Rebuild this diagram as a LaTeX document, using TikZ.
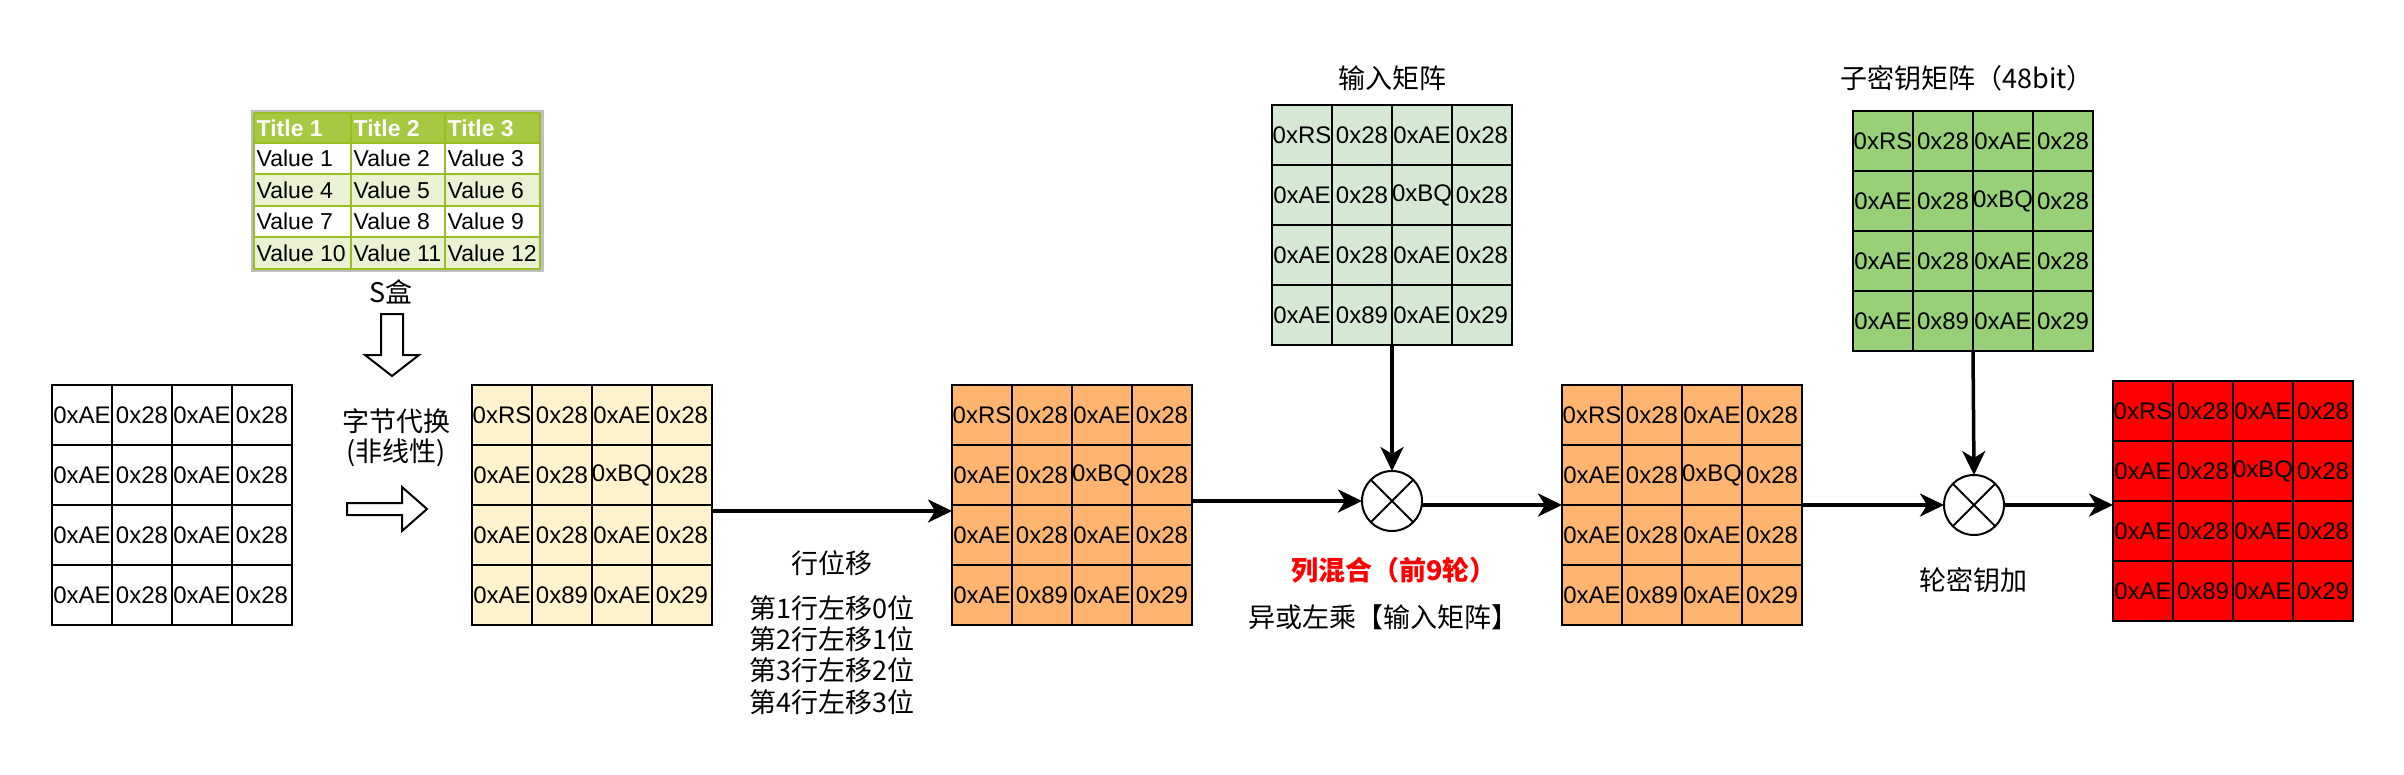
\documentclass[tikz,border=0pt]{standalone}
\usepackage{fontspec}
\setmainfont{Liberation Sans}
\newfontfamily\cjk{Noto Sans CJK SC}
\usetikzlibrary{arrows.meta}
\definecolor{cYellow}{HTML}{FFF2CC}
\definecolor{cOrange}{HTML}{FFB570}
\definecolor{cLightGreen}{HTML}{D5E8D4}
\definecolor{cGreen}{HTML}{97D077}
\definecolor{cRed}{HTML}{FF0000}
\definecolor{tHead}{HTML}{A7C942}
\definecolor{tAlt}{HTML}{EAF2D3}
\definecolor{tLine}{HTML}{98BF21}
\definecolor{tOuter}{HTML}{BFBFBF}
\tikzset{
  gridline/.style={line width=2pt, draw=black},
  cellbox/.style={inner sep=0pt, font=\fontsize{24}{28}\selectfont},
  matframe/.style={minimum width=240pt, minimum height=240pt, inner sep=0pt, outer sep=0pt, draw=none},
  lbl/.style={font=\cjk\fontsize{27}{31}\selectfont, inner sep=0pt},
  arr/.style={line width=3.5pt, -{Stealth[length=24pt,width=23pt,inset=7pt]}},
  xorc/.style={circle, draw, line width=2pt, fill=white, minimum size=60pt, inner sep=0pt, outer sep=0pt},
  blockarrow/.style={draw, line width=2pt, fill=white, line join=miter},
  tcell/.style={anchor=west, inner sep=0pt, font=\fontsize{23}{27}\selectfont},
  thead/.style={tcell, text=white, font=\fontsize{23}{27}\selectfont\bfseries},
}
\def\plainrows{0xAE/0x28/0xAE/0x28,0xAE/0x28/0xAE/0x28,0xAE/0x28/0xAE/0x28,0xAE/0x28/0xAE/0x28}
\def\staterows{0xRS/0x28/0xAE/0x28,0xAE/0x28/0xBQ/0x28,0xAE/0x28/0xAE/0x28,0xAE/0x89/0xAE/0x29}
% #1 name, #2 left x, #3 top y, #4 fill colour, #5 rows macro
\newcommand\aesgrid[5]{%
  \fill[#4] (#2,#3) rectangle ++(240,240);
  \node[matframe] (#1) at (#2+120,#3+120) {};
  \foreach \a/\b/\c/\d [count=\i from 0] in #5 {%
    \node[cellbox] (#1-\i-0) at (#2+30,#3+30+60*\i) {\a};
    \node[cellbox] (#1-\i-1) at (#2+90,#3+30+60*\i) {\b};
    \node[cellbox] (#1-\i-2) at (#2+150,#3+30+60*\i) {\c};
    \node[cellbox] (#1-\i-3) at (#2+210,#3+30+60*\i) {\d};
  }
  \foreach \k in {60,120,180}{%
    \draw[gridline] (#2+\k,#3) -- ++(0,240);
    \draw[gridline] (#2,#3+\k) -- ++(240,0);
  }
  \draw[gridline] (#2,#3) rectangle ++(240,240);
}
\begin{document}
\begin{tikzpicture}[x=1pt,y=-1pt]
\useasboundingbox (0,0) rectangle (2404,774);

% ---------- S-box table ----------
\draw[tOuter, line width=3pt] (252.5,111.5) rectangle (542,270.2);
\fill[white] (254,113) rectangle (540,268.6);
\fill[tHead] (254,113) rectangle (540,143);
\fill[tAlt] (254,174.4) rectangle (540,205.8);
\fill[tAlt] (254,237.2) rectangle (540,268.6);
\foreach \yy in {113,143,174.4,205.8,237.2,268.6}{\draw[tLine, line width=2pt] (254,\yy) -- (540,\yy);}
\foreach \xx in {254,351,445,540}{\draw[tLine, line width=2pt] (\xx,113) -- (\xx,268.6);}
\node[thead] (th1) at (256.5,128) {Title 1};
\node[thead] (th2) at (353.5,128) {Title 2};
\node[thead] (th3) at (447.5,128) {Title 3};
\foreach \r/\va/\vb/\vc [count=\j from 1] in {158.7/1/2/3,190.1/4/5/6,221.5/7/8/9,252.9/10/11/12}{%
  \node[tcell] (tv\j a) at (256.5,\r) {Value \va};
  \node[tcell] (tv\j b) at (353.5,\r) {Value \vb};
  \node[tcell] (tv\j c) at (447.5,\r) {Value \vc};
}
\node[lbl] (sbox) at (391,292) {S盒};

% ---------- block arrows ----------
\draw[blockarrow] (381,314) -- (403,314) -- (403,355) -- (419,355) -- (392,376) -- (365,355) -- (381,355) -- cycle;
\draw[blockarrow] (347,503) -- (402,503) -- (402,487) -- (427,509) -- (402,531) -- (402,515) -- (347,515) -- cycle;
\node[lbl] (subA) at (396,421) {字节代换};
\node[lbl] (subB) at (396,453) {(非线性)};

% ---------- matrices ----------
\aesgrid{m1}{52}{385}{white}{\plainrows}
\aesgrid{m2}{472}{385}{cYellow}{\staterows}
\aesgrid{m3}{952}{385}{cOrange}{\staterows}
\aesgrid{g1}{1272}{105}{cLightGreen}{\staterows}
\aesgrid{m4}{1562}{385}{cOrange}{\staterows}
\aesgrid{g2}{1853}{111}{cGreen}{\staterows}
\aesgrid{rr}{2113}{381}{cRed}{\staterows}

% ---------- xor circles ----------
\node[xorc] (c1) at (1392,501) {};
\draw[line width=2pt] (c1.45) -- (c1.225) (c1.135) -- (c1.315);
\node[xorc] (c2) at (1974,505) {};
\draw[line width=2pt] (c2.45) -- (c2.225) (c2.135) -- (c2.315);

% ---------- connectors ----------
\draw[arr] ([yshift=-6pt]m2.east) -- ([yshift=-6pt]m3.west);
\draw[arr] ([yshift=4pt]m3.east) -- (c1.west);
\draw[arr] (g1.south) -- (c1.north);
\draw[arr] ([yshift=-4pt]c1.east) -- (m4.west);
\draw[arr] (m4.east) -- (c2.west);
\draw[arr] (g2.south) -- (c2.north);
\draw[arr] (c2.east) -- (c2.east -| rr.west);

% ---------- labels ----------
\node[lbl] (shiftT) at (832,563) {行位移};
\node[lbl, align=center, font=\cjk\fontsize{27}{31.3}\selectfont] (shiftL) at (832,655) {第1行左移0位\\第2行左移1位\\第3行左移2位\\第4行左移3位};
\node[lbl, text=cRed, font=\cjk\fontsize{27}{31}\selectfont\bfseries] (mixT) at (1394,570) {列混合（前9轮）};
\node[lbl] (mixB) at (1383,617) {异或左乘【输入矩阵】};
\node[lbl] (inT) at (1392,78) {输入矩阵};
\node[lbl] (keyT) at (1967,78) {子密钥矩阵（48bit）};
\node[lbl] (addT) at (1973,580) {轮密钥加};
\end{tikzpicture}
\end{document}
